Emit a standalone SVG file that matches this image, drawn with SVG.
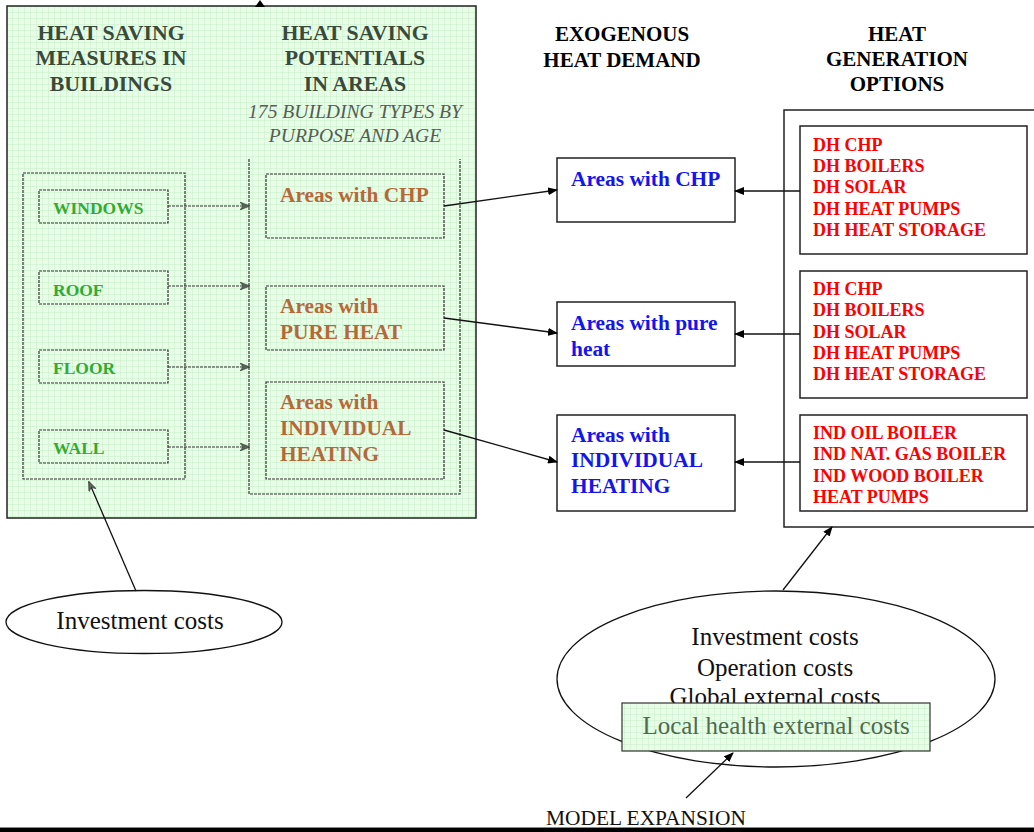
<svg xmlns="http://www.w3.org/2000/svg" width="1034" height="832" viewBox="0 0 1034 832">
<style>
.hdr{font-family:"Liberation Serif",serif;font-weight:bold;font-size:21px;text-anchor:middle;fill:#000}
.ghdr{font-family:"Liberation Serif",serif;font-weight:bold;font-size:21.8px;text-anchor:middle;fill:#3a4a3a}
.ital{font-family:"Liberation Serif",serif;font-style:italic;font-size:19.6px;text-anchor:middle;fill:#555d55}
.meas{font-family:"Liberation Serif",serif;font-weight:bold;font-size:17.5px;fill:#33aa33}
.area{font-family:"Liberation Serif",serif;font-weight:bold;font-size:21.3px;fill:#b5683a}
.blue{font-family:"Liberation Serif",serif;font-weight:bold;font-size:21.4px;fill:#1414f0}
.red{font-family:"Liberation Serif",serif;font-weight:bold;font-size:18px;fill:#ff0000}
.cost{font-family:"Liberation Serif",serif;font-size:25px;fill:#111;text-anchor:middle}
.dash{fill:none;stroke:#333;stroke-width:1.2;stroke-dasharray:3 1}
.box{fill:#fff;stroke:#222;stroke-width:1.5}
.conn{stroke:#111;stroke-width:1.3;fill:none}
</style>
<defs>
<pattern id="grid" width="6" height="6" patternUnits="userSpaceOnUse">
<rect width="6" height="6" fill="#e8fce8"/>
<path d="M0 0H6M0 0V6" stroke="#c6eec6" stroke-width="1"/>
</pattern>
<marker id="ah" markerWidth="10" markerHeight="8" refX="9" refY="4" orient="auto" markerUnits="userSpaceOnUse">
<path d="M0 0L10 4L0 8z" fill="#000"/>
</marker>
<marker id="ahg" markerWidth="10" markerHeight="8" refX="9" refY="4" orient="auto" markerUnits="userSpaceOnUse">
<path d="M0 0L10 4L0 8L3 4z" fill="#556655" stroke="#333" stroke-width="0.6"/>
</marker>
</defs>
<rect width="1034" height="832" fill="#fff"/>

<g id="savingPanel">
<rect x="7" y="6" width="469" height="512" fill="url(#grid)" stroke="#222" stroke-width="1.5"/>
<text class="ghdr" x="111" y="40">HEAT SAVING</text>
<text class="ghdr" x="111" y="65">MEASURES IN</text>
<text class="ghdr" x="111" y="91">BUILDINGS</text>
<text class="ghdr" x="355" y="40">HEAT SAVING</text>
<text class="ghdr" x="355" y="65">POTENTIALS</text>
<text class="ghdr" x="355" y="91">IN AREAS</text>
<text class="ital" x="355" y="118">175 BUILDING TYPES BY</text>
<text class="ital" x="355" y="142">PURPOSE AND AGE</text>
<rect class="dash" x="23" y="173" width="162" height="306"/>
<path class="dash" d="M249 159V494H460V159"/>
</g>

<g id="windows"><rect class="dash" x="39" y="190" width="129" height="33"/><text class="meas" x="53" y="214">WINDOWS</text></g>
<g id="roof"><rect class="dash" x="39" y="271" width="129" height="33"/><text class="meas" x="53" y="296">ROOF</text></g>
<g id="floor"><rect class="dash" x="39" y="350" width="129" height="33"/><text class="meas" x="53" y="374">FLOOR</text></g>
<g id="wall"><rect class="dash" x="39" y="430" width="129" height="33"/><text class="meas" x="53" y="454">WALL</text></g>

<g id="areaCHP"><rect class="dash" x="266" y="174" width="178" height="64"/><text class="area" x="280" y="202">Areas with CHP</text></g>
<g id="areaPure"><rect class="dash" x="266" y="286" width="178" height="64"/><text class="area" x="280" y="313">Areas with</text><text class="area" x="280" y="339">PURE HEAT</text></g>
<g id="areaInd"><rect class="dash" x="266" y="382" width="178" height="97"/><text class="area" x="280" y="409">Areas with</text><text class="area" x="280" y="435">INDIVIDUAL</text><text class="area" x="280" y="461">HEATING</text></g>

<g id="exoHeader"><text class="hdr" x="622" y="41">EXOGENOUS</text><text class="hdr" x="622" y="67">HEAT DEMAND</text></g>
<g id="genHeader"><text class="hdr" x="897" y="41">HEAT</text><text class="hdr" x="897" y="66">GENERATION</text><text class="hdr" x="897" y="91">OPTIONS</text></g>

<g id="demandCHP"><rect class="box" x="557" y="158" width="178" height="64"/><text class="blue" x="571" y="186">Areas with CHP</text></g>
<g id="demandPure"><rect class="box" x="557" y="302" width="178" height="64"/><text class="blue" x="571" y="330">Areas with pure</text><text class="blue" x="571" y="356">heat</text></g>
<g id="demandInd"><rect class="box" x="557" y="415" width="178" height="96"/><text class="blue" x="571" y="442">Areas with</text><text class="blue" x="571" y="467">INDIVIDUAL</text><text class="blue" x="571" y="493">HEATING</text></g>

<g id="genFrame"><rect x="784" y="110" width="260" height="417" fill="none" stroke="#222" stroke-width="1.5"/></g>
<g id="genDH1"><rect class="box" x="800" y="126" width="227" height="128"/>
<text class="red" x="813" y="151">DH CHP</text><text class="red" x="813" y="172">DH BOILERS</text><text class="red" x="813" y="193">DH SOLAR</text><text class="red" x="813" y="215">DH HEAT PUMPS</text><text class="red" x="813" y="236">DH HEAT STORAGE</text></g>
<g id="genDH2"><rect class="box" x="800" y="271" width="227" height="127"/>
<text class="red" x="813" y="295">DH CHP</text><text class="red" x="813" y="316">DH BOILERS</text><text class="red" x="813" y="338">DH SOLAR</text><text class="red" x="813" y="359">DH HEAT PUMPS</text><text class="red" x="813" y="380">DH HEAT STORAGE</text></g>
<g id="genInd"><rect class="box" x="800" y="415" width="227" height="96"/>
<text class="red" x="813" y="439">IND OIL BOILER</text><text class="red" x="813" y="460">IND NAT. GAS BOILER</text><text class="red" x="813" y="482">IND WOOD BOILER</text><text class="red" x="813" y="503">HEAT PUMPS</text></g>

<g id="costsLeft"><ellipse cx="144" cy="622" rx="138" ry="31.5" fill="#fff" stroke="#111" stroke-width="1.3"/><text class="cost" x="140" y="629">Investment costs</text></g>

<g id="costsRight"><ellipse cx="776" cy="679" rx="219" ry="88" fill="none" stroke="#111" stroke-width="1.3"/>
<text class="cost" x="775" y="645">Investment costs</text><text class="cost" x="775" y="676">Operation costs</text><text class="cost" x="775" y="705">Global external costs</text></g>
<g id="localHealth"><rect x="622" y="703" width="308" height="48" fill="url(#grid)" stroke="#333" stroke-width="1.2"/><text class="cost" x="776" y="734" style="fill:#4f6a4f">Local health external costs</text></g>
<g id="modelExpansion"><text x="546" y="825" style="font-family:'Liberation Serif',serif;font-size:21.4px;fill:#111">MODEL EXPANSION</text></g>

<g id="connectors">
<path d="M168 206H249" class="dash" marker-end="url(#ahg)"/>
<path d="M168 286H249" class="dash" marker-end="url(#ahg)"/>
<path d="M168 367H249" class="dash" marker-end="url(#ahg)"/>
<path d="M168 447H249" class="dash" marker-end="url(#ahg)"/>
<path d="M444 206L557 190" class="conn" marker-end="url(#ah)"/>
<path d="M444 318L557 333" class="conn" marker-end="url(#ah)"/>
<path d="M444 430L557 462" class="conn" marker-end="url(#ah)"/>
<path d="M800 191H735" class="conn" marker-end="url(#ah)"/>
<path d="M800 334H735" class="conn" marker-end="url(#ah)"/>
<path d="M800 462H735" class="conn" marker-end="url(#ah)"/>
<path d="M136 591L89 482" class="conn" marker-end="url(#ahg)"/>
<path d="M783 590L832 527" class="conn" marker-end="url(#ah)"/>
<path d="M686 798L733 753" class="conn" marker-end="url(#ah)"/>
<path d="M255 7L260 0L265 7z" fill="#000"/>
</g>
<rect x="0" y="827" width="1034" height="5" fill="#000"/>
<rect x="0" y="827" width="1034" height="1" fill="#888"/>
</svg>
